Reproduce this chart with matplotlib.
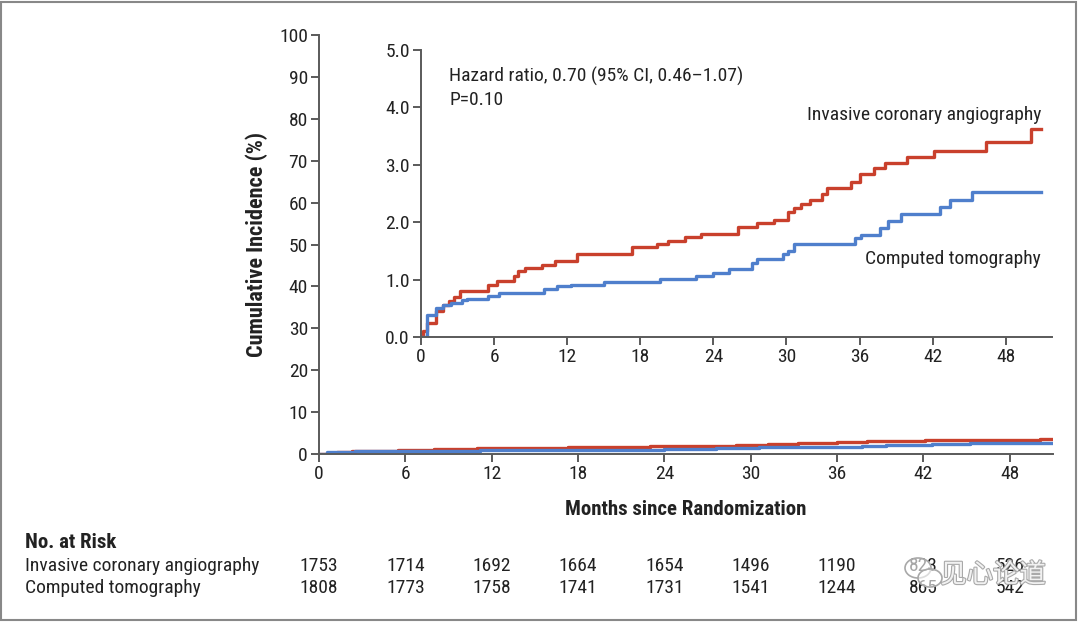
import matplotlib
matplotlib.use("Agg")
import matplotlib.pyplot as plt
import matplotlib.patches as patches
import matplotlib.patheffects as pe
from matplotlib import font_manager

# --- data ---
ica_months = [0, 0.18, 0.53, 1.25, 1.78, 2.31, 2.67, 3.2, 5.52, 6.23, 7.66, 8.0, 8.55,
              9.97, 11.0, 12.8, 17.3, 19.4, 20.3, 21.7, 23.0, 26.0, 27.6, 29.0, 30.1,
              30.6, 31.2, 31.9, 32.9, 33.3, 35.3, 36.0, 37.2, 38.1, 39.9, 42.1, 46.4,
              50.1, 50.9]
ica_pct = [0, 0.1, 0.25, 0.45, 0.55, 0.62, 0.7, 0.8, 0.9, 0.98, 1.07, 1.15, 1.21,
           1.26, 1.33, 1.44, 1.56, 1.62, 1.68, 1.74, 1.8, 1.92, 1.98, 2.04, 2.17,
           2.25, 2.32, 2.38, 2.5, 2.6, 2.7, 2.84, 2.94, 3.03, 3.13, 3.24, 3.4,
           3.63, 3.63]

ct_months = [0, 0.53, 1.25, 1.78, 2.5, 3.4, 3.74, 5.52, 6.4, 10.1, 11.2, 12.3, 15.0,
             19.6, 22.6, 24.0, 25.3, 27.2, 27.6, 29.7, 30.1, 30.6, 35.6, 36.1, 37.7,
             38.3, 39.4, 42.6, 43.4, 45.2, 50.9]
ct_pct = [0, 0.38, 0.5, 0.56, 0.6, 0.64, 0.67, 0.72, 0.77, 0.83, 0.88, 0.9, 0.95,
          1.01, 1.06, 1.12, 1.19, 1.29, 1.36, 1.45, 1.5, 1.62, 1.72, 1.78, 1.9,
          2.02, 2.15, 2.27, 2.38, 2.53, 2.53]

risk_months = [0, 6, 12, 18, 24, 30, 36, 42, 48]
risk_ica = [1753, 1714, 1692, 1664, 1654, 1496, 1190, 823, 526]
risk_ct = [1808, 1773, 1758, 1741, 1731, 1541, 1244, 865, 542]

RED = "#c9402c"
BLUE = "#4f7fcc"
AXC = "#5a5a5a"
TXT = "#222222"

names = {f.name for f in font_manager.fontManager.ttflist}
base = "DejaVu Sans"
for cand in ["Roboto Condensed", "Liberation Sans Narrow", "Open Sans Condensed", "Lato"]:
    if cand in names:
        base = cand
        break
plt.rcParams["font.family"] = [base, "DejaVu Sans"]
FS = 14
BFS = 15

fig = plt.figure(figsize=(10.8, 6.22), dpi=100)
fig.patch.set_facecolor("white")

# frame around the whole picture
fig.add_artist(patches.Rectangle((0.001, 0.004), 0.995, 0.993, transform=fig.transFigure,
                                 fill=False, edgecolor="#888888", linewidth=1.5))


def style(ax):
    for s in ["top", "right"]:
        ax.spines[s].set_visible(False)
    for s in ["left", "bottom"]:
        ax.spines[s].set_color(AXC)
        ax.spines[s].set_linewidth(1.4)
    ax.tick_params(colors=AXC, width=1.4, length=6, labelsize=FS, labelcolor=TXT, pad=2)


# --- main axes ---
ax = fig.add_axes([0.2954, 0.2701, 0.6796, 0.6736])
ax.step(ica_months, ica_pct, where="post", color=RED, lw=2.4)
ax.step(ct_months, ct_pct, where="post", color=BLUE, lw=2.4)
ax.set_xlim(0, 51)
ax.set_ylim(0, 100)
ax.set_xticks(risk_months)
ax.set_yticks(range(0, 101, 10))
style(ax)
ax.set_ylabel("Cumulative Incidence (%)", fontsize=16, fontweight="bold", color=TXT, labelpad=8)
ax.set_xlabel("Months since Randomization", fontsize=BFS, fontweight="bold", color=TXT, labelpad=12)

# --- inset ---
ins = fig.add_axes([0.3898, 0.4582, 0.5843, 0.4614])
ins.step(ica_months, ica_pct, where="post", color=RED, lw=2.4)
ins.step(ct_months, ct_pct, where="post", color=BLUE, lw=2.4)
ins.set_xlim(0, 51.8)
ins.set_ylim(0, 5.0)
ins.set_xticks(risk_months)
ins.set_yticks([0, 1, 2, 3, 4, 5])
ins.set_yticklabels(["0.0", "1.0", "2.0", "3.0", "4.0", "5.0"])
style(ins)
ins.set_facecolor("none")
ins.text(2.3, 4.34, "Hazard ratio, 0.70 (95% CI, 0.46\u20131.07)\nP=0.10", fontsize=FS,
         color=TXT, va="center", ha="left", linespacing=1.3)
ins.text(50.9, 3.87, "Invasive coronary angiography", fontsize=FS, color=TXT,
         ha="right", va="center")
ins.text(50.9, 1.36, "Computed tomography", fontsize=FS, color=TXT,
         ha="right", va="center")

# --- number at risk table ---
trans = ax.get_xaxis_transform()
fig.text(25 / 1080, 1 - 542 / 622, "No. at Risk", fontsize=BFS, fontweight="bold",
         color=TXT, va="center")
fig.text(25 / 1080, 1 - 566 / 622, "Invasive coronary angiography", fontsize=FS,
         color=TXT, va="center")
fig.text(25 / 1080, 1 - 588 / 622, "Computed tomography", fontsize=FS,
         color=TXT, va="center")
y1 = (1 - 566 / 622 - 0.2701) / 0.6736
y2 = (1 - 588 / 622 - 0.2701) / 0.6736
for m, a, b in zip(risk_months, risk_ica, risk_ct):
    ax.text(m, y1, str(a), transform=trans, fontsize=FS, color=TXT,
            ha="center", va="center", clip_on=False)
    ax.text(m, y2, str(b), transform=trans, fontsize=FS, color=TXT,
            ha="center", va="center", clip_on=False)

# watermark: chat-bubble icon + name
for cx, cy, w, h in [(918, 568, 26, 20), (930, 578, 24, 18)]:
    fig.add_artist(patches.Ellipse((cx / 1080, 1 - cy / 622), w / 1080, h / 622,
                                   transform=fig.transFigure, facecolor=(1, 1, 1, 0.6),
                                   edgecolor="#a8a8a8", linewidth=1.2))
wm = fig.text(993 / 1080, 1 - 575 / 622, "见心论道", fontsize=19,
              family=["Noto Sans CJK SC", "DejaVu Sans"], color="white",
              ha="center", va="center", alpha=0.85)
wm.set_path_effects([pe.withStroke(linewidth=1.6, foreground="#9a9a9a")])

fig.savefig("out.png", dpi=100, facecolor="white")
